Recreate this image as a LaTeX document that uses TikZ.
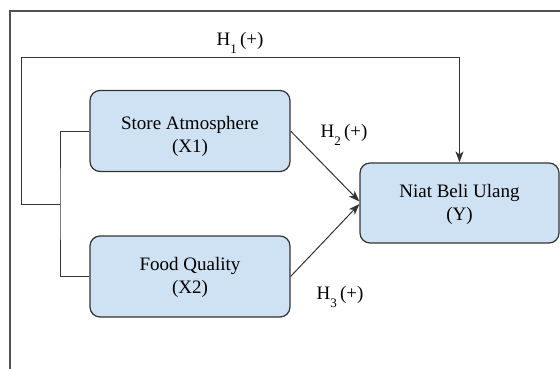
\documentclass[tikz,border=0pt]{standalone}
\usepackage{fontspec}
\setmainfont{Liberation Serif}
\usetikzlibrary{arrows.meta}
\definecolor{boxfill}{HTML}{CFE2F3}
\definecolor{linegray}{HTML}{333333}
\newcommand{\hsub}[1]{\raisebox{-8.5pt}{\fontsize{13}{13}\selectfont #1}}
\begin{document}
\begin{tikzpicture}
  [x=1pt, y=-1pt,
   every node/.style={font=\fontsize{19}{23}\selectfont, align=center},
   box/.style={draw=linegray, fill=boxfill, line width=1.2pt, rounded corners=10pt,
               minimum width=200pt, minimum height=81pt, inner sep=2pt},
   conn/.style={draw=linegray, line width=1pt},
   arr/.style={conn, -{Stealth[length=11pt, width=8pt, inset=3pt]}}]
  \useasboundingbox (0,0) rectangle (560,369);
  \draw[draw=linegray!85, line width=1.2pt] (10,369) -- (10,11) -- (560,11);
  \node[box] (X1) at (190,131) {\rule{0pt}{25pt}Store Atmosphere\\(X1)};
  \node[box] (X2) at (190,276.5) {\rule{0pt}{16pt}Food Quality\\(X2)};
  \node[box, minimum width=199pt, minimum height=80pt] (Y) at (459.5,203) {\rule{0pt}{17pt}Niat Beli Ulang\\(Y)};
  \coordinate (jl) at (60,204);
  \coordinate (c1) at (21,58);
  \draw[conn] (X1.west) -| (jl) |- (X2.west);
  \draw[arr] (jl) -| (c1) -| (Y.north);
  \draw[arr] (X1.east) -- ([yshift=1.5pt]Y.west);
  \draw[arr] (X2.east) -- ([yshift=-1pt]Y.west);
  \node (h1) at (240,43) {H\hsub{1}\,(+)};
  \node (h2) at (344,135) {H\hsub{2}\,(+)};
  \node (h3) at (340,297) {H\hsub{3}\,(+)};
\end{tikzpicture}
\end{document}
